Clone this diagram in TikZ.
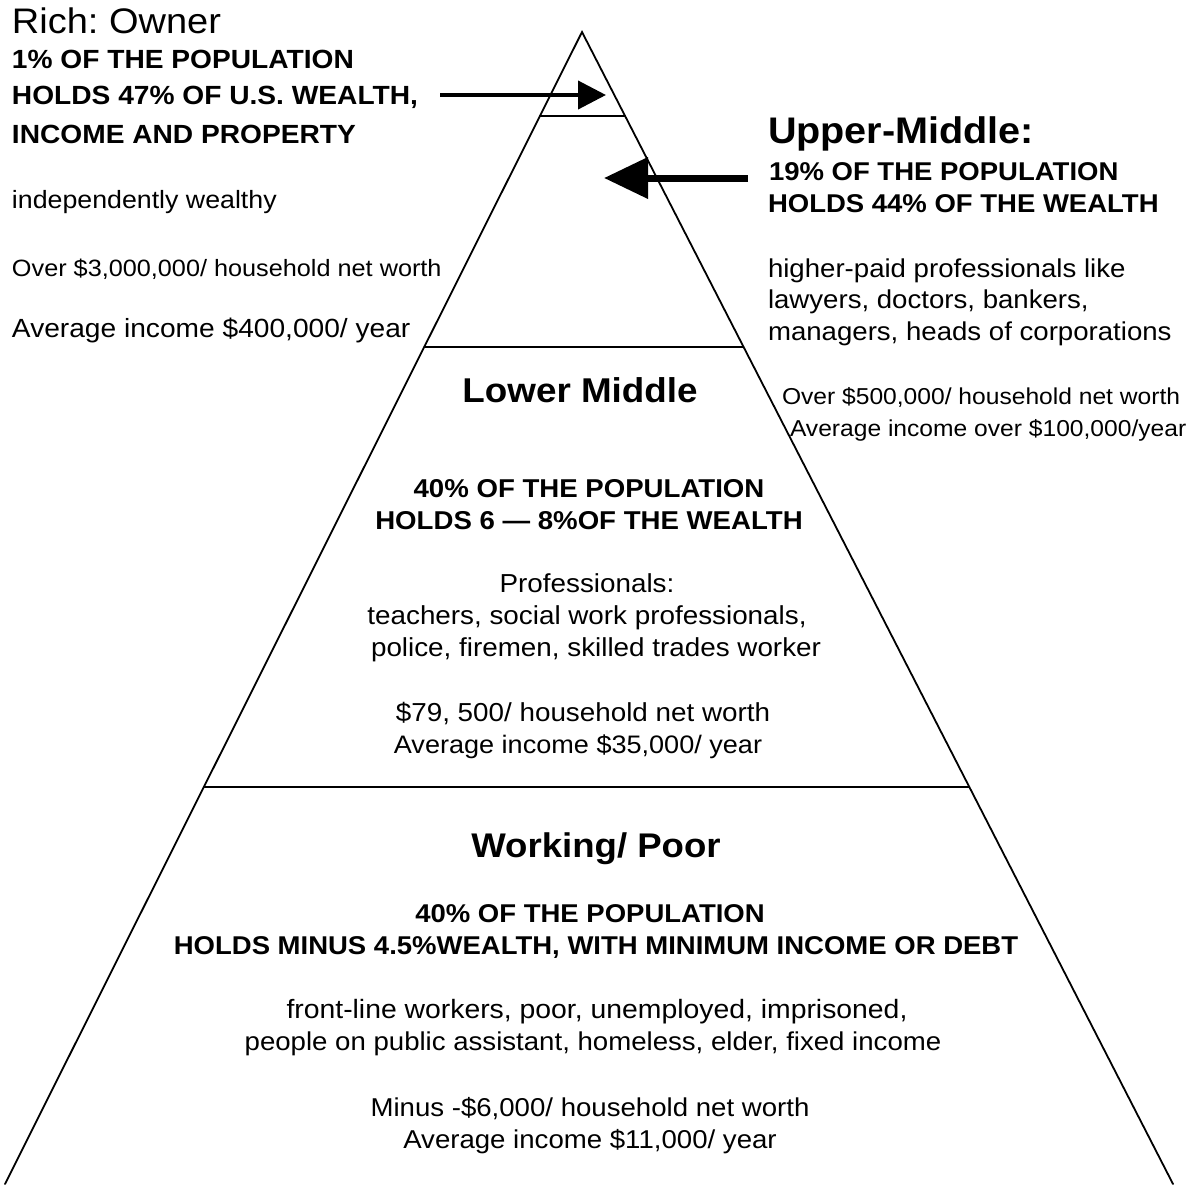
\documentclass[tikz,border=0pt]{standalone}
\usepackage{fontspec}
\setmainfont{Liberation Sans}[FakeStretch=1.07]
\usetikzlibrary{arrows.meta,calc}
\newcommand{\fs}[1]{\fontsize{#1}{#1}\selectfont}
\frenchspacing
\tikzset{
  txt/.style={inner sep=0pt, outer sep=0pt},
  lft/.style={txt, anchor=base west},
  ctr/.style={txt, anchor=base},
  pline/.style={line width=1.8pt, line cap=round},
  bigarrow/.style={line width=4pt, -{Triangle[length=28pt,width=28pt]}},
  hugearrow/.style={line width=7pt, -{Triangle[length=44pt,width=40pt]}},
}
\begin{document}
\begin{tikzpicture}[x=1pt,y=-1pt]
\useasboundingbox (0,0) rectangle (1197,1184);
% pyramid
\coordinate (apex) at (582,32);
\coordinate (bl) at (5,1184);
\coordinate (br) at (1173,1184);
\draw[pline] (bl) -- (apex) -- (br);
\coordinate (l1) at ($(apex)!0.0729!(bl)$);
\coordinate (r1) at ($(apex)!0.0729!(br)$);
\coordinate (l2) at ($(apex)!0.2734!(bl)$);
\coordinate (r2) at ($(apex)!0.2734!(br)$);
\coordinate (l3) at ($(apex)!0.6554!(bl)$);
\coordinate (r3) at ($(apex)!0.6554!(br)$);
\draw[pline] (l1) -- (r1);
\draw[pline] (l2) -- (r2);
\draw[pline] (l3) -- (r3);
% arrows
\coordinate (a1s) at (440,95);
\coordinate (a1e) at (606,95);
\draw[bigarrow] (a1s) -- (a1e);
\coordinate (a2s) at (748,178);
\coordinate (a2e) at (604,178);
\draw[hugearrow] (a2s) -- (a2e);
% left block
\node[lft, font=\fs{35.5}] (rich) at (12,33) {Rich: Owner};
\node[lft, font=\bfseries\fs{26.3}] (r1t) at (12,68) {1\% OF THE POPULATION};
\node[lft, font=\bfseries\fs{26.3}] (r2t) at (12,104) {HOLDS 47\% OF U.S. WEALTH,};
\node[lft, font=\bfseries\fs{26.3}] (r3t) at (12,143) {INCOME AND PROPERTY};
\node[lft, font=\fs{25}] (r4t) at (12,208) {independently wealthy};
\node[lft, font=\fs{23.6}] (r5t) at (12,276) {Over \$3,000,000/ household net worth};
\node[lft, font=\fs{26.3}] (r6t) at (12,337) {Average income \$400,000/ year};
% right block
\node[lft, font=\bfseries\fs{37}] (um) at (768,143) {Upper-Middle:};
\node[lft, font=\bfseries\fs{25.7}] (u1) at (769,180) {19\% OF THE POPULATION};
\node[lft, font=\bfseries\fs{25.7}] (u2) at (768,212) {HOLDS 44\% OF THE WEALTH};
\node[lft, font=\fs{25.8}] (u3) at (768,277) {higher-paid professionals like};
\node[lft, font=\fs{25.8}] (u4) at (768,308) {lawyers, doctors, bankers,};
\node[lft, font=\fs{25.8}] (u5) at (768,340) {managers, heads of corporations};
\node[lft, font=\fs{23}] (u6) at (782,404) {Over \$500,000/ household net worth};
\node[lft, font=\fs{23}] (u7) at (790,436) {Average income over \$100,000/year};
% lower middle
\node[ctr, font=\bfseries\fs{34.4}] (lm) at (580,402) {Lower Middle};
\node[ctr, font=\bfseries\fs{25.8}] (lm1) at (589,497) {40\% OF THE POPULATION};
\node[ctr, font=\bfseries\fs{25.8}] (lm2) at (589,529) {HOLDS 6 — 8\%OF THE WEALTH};
\node[ctr, font=\fs{26}] (lm3) at (587,592) {Professionals:};
\node[ctr, font=\fs{26}] (lm4) at (587,624) {teachers, social work professionals,};
\node[ctr, font=\fs{26}] (lm5) at (596,656) {police, firemen, skilled trades worker};
\node[ctr, font=\fs{26}] (lm6) at (583,721) {\$79, 500/ household net worth};
\node[ctr, font=\fs{25.3}] (lm7) at (578,753) {Average income \$35,000/ year};
% working poor
\node[ctr, font=\bfseries\fs{34.2}] (wp) at (596,857) {Working/ Poor};
\node[ctr, font=\bfseries\fs{25.7}] (wp1) at (590,922) {40\% OF THE POPULATION};
\node[ctr, font=\bfseries\fs{25.7}] (wp2) at (596,954) {HOLDS MINUS 4.5\%WEALTH, WITH MINIMUM INCOME OR DEBT};
\node[ctr, font=\fs{26.5}] (wp3) at (597,1018) {front-line workers, poor, unemployed, imprisoned,};
\node[ctr, font=\fs{25.8}] (wp4) at (593,1050) {people on public assistant, homeless, elder, fixed income};
\node[ctr, font=\fs{25.8}] (wp5) at (590,1116) {Minus -\$6,000/ household net worth};
\node[ctr, font=\fs{25.8}] (wp6) at (590,1148) {Average income \$11,000/ year};
\end{tikzpicture}
\end{document}
